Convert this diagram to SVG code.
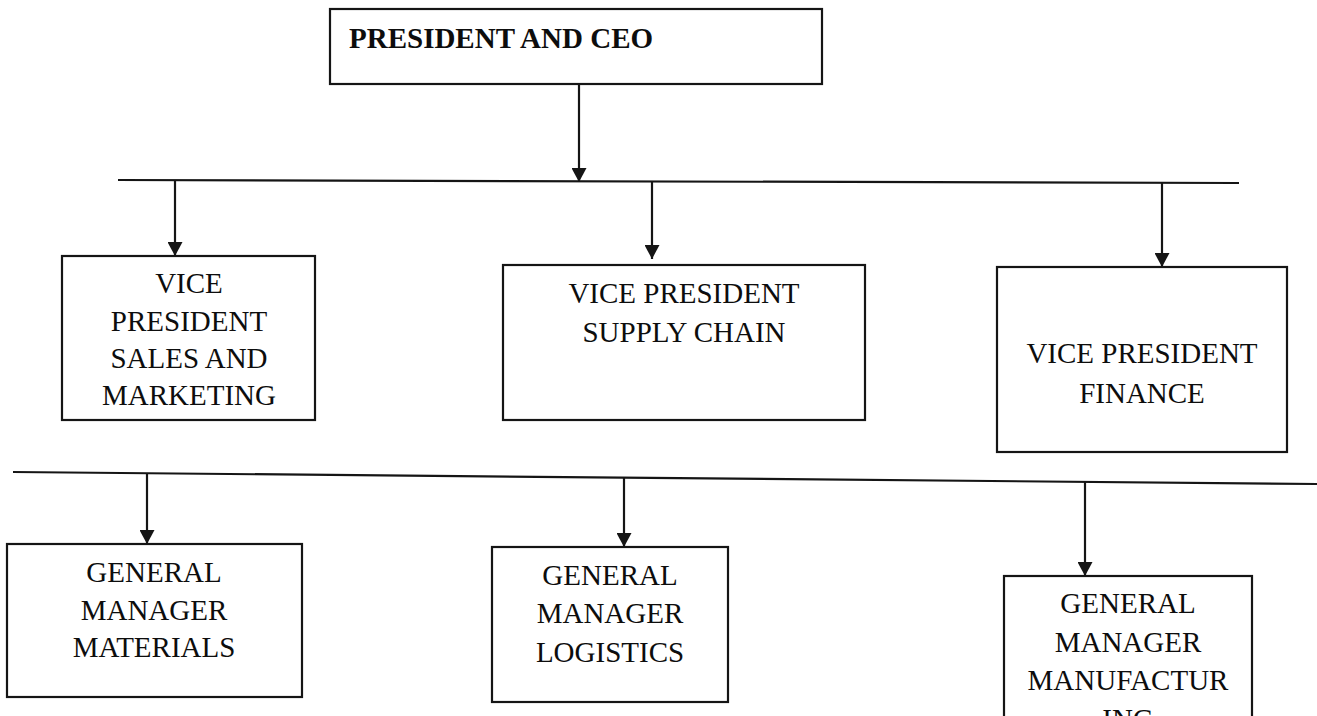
<svg xmlns="http://www.w3.org/2000/svg" width="1317" height="716" viewBox="0 0 1317 716">
  <style>
    .box { fill: #ffffff; stroke: #151515; stroke-width: 2.2; }
    .bar { stroke: #151515; stroke-width: 2.2; fill: none; }
    .link { stroke: #151515; stroke-width: 2.2; fill: none; marker-end: url(#head); }
    .label { font-family: "Liberation Serif", "Times New Roman", serif; font-size: 29px; fill: #0d0d0d; text-anchor: middle; }
    .title { font-family: "Liberation Serif", "Times New Roman", serif; font-size: 29px; font-weight: bold; fill: #0d0d0d; }
  </style>
  <defs>
    <marker id="head" markerUnits="userSpaceOnUse" markerWidth="15" markerHeight="15" refX="14" refY="7.5" orient="auto">
      <path d="M0,0 L14,7.5 L0,15 Z" fill="#151515"/>
    </marker>
  </defs>
  <rect width="1317" height="716" fill="#ffffff"/>

  <!-- connectors -->
  <g id="connectors">
    <line class="link" x1="579" y1="84" x2="579" y2="182"/>
    <line class="bar" x1="118" y1="180" x2="1239" y2="183"/>
    <line class="link" x1="175" y1="181" x2="175" y2="256"/>
    <line class="link" x1="652" y1="181" x2="652" y2="259"/>
    <line class="link" x1="1162" y1="183" x2="1162" y2="267"/>
    <line class="bar" x1="13" y1="472" x2="1317" y2="484"/>
    <line class="link" x1="147" y1="473" x2="147" y2="544"/>
    <line class="link" x1="624" y1="478" x2="624" y2="547"/>
    <line class="link" x1="1085" y1="482" x2="1085" y2="576"/>
  </g>

  <!-- top level -->
  <g id="president-ceo">
    <rect class="box" x="330" y="9" width="492" height="75"/>
    <text class="title" x="349" y="48">PRESIDENT AND CEO</text>
  </g>

  <!-- vice presidents -->
  <g id="vp-sales-marketing">
    <rect class="box" x="62" y="256" width="253" height="164"/>
    <text class="label" x="189" y="293">VICE</text>
    <text class="label" x="189" y="331">PRESIDENT</text>
    <text class="label" x="189" y="368">SALES AND</text>
    <text class="label" x="189" y="405">MARKETING</text>
  </g>
  <g id="vp-supply-chain">
    <rect class="box" x="503" y="265" width="362" height="155"/>
    <text class="label" x="684" y="303">VICE PRESIDENT</text>
    <text class="label" x="684" y="342">SUPPLY CHAIN</text>
  </g>
  <g id="vp-finance">
    <rect class="box" x="997" y="267" width="290" height="185"/>
    <text class="label" x="1142" y="363">VICE PRESIDENT</text>
    <text class="label" x="1142" y="403">FINANCE</text>
  </g>

  <!-- general managers -->
  <g id="gm-materials">
    <rect class="box" x="7" y="544" width="295" height="153"/>
    <text class="label" x="154" y="582">GENERAL</text>
    <text class="label" x="154" y="620">MANAGER</text>
    <text class="label" x="154" y="657">MATERIALS</text>
  </g>
  <g id="gm-logistics">
    <rect class="box" x="492" y="547" width="236" height="155"/>
    <text class="label" x="610" y="585">GENERAL</text>
    <text class="label" x="610" y="623">MANAGER</text>
    <text class="label" x="610" y="662">LOGISTICS</text>
  </g>
  <g id="gm-manufacturing">
    <rect class="box" x="1004" y="576" width="248" height="160"/>
    <text class="label" x="1128" y="613">GENERAL</text>
    <text class="label" x="1128" y="652">MANAGER</text>
    <text class="label" x="1128" y="690">MANUFACTUR</text>
    <!-- last line runs past the lower edge of the sheet -->
    <text class="label" x="1128" y="729">ING</text>
  </g>
</svg>
